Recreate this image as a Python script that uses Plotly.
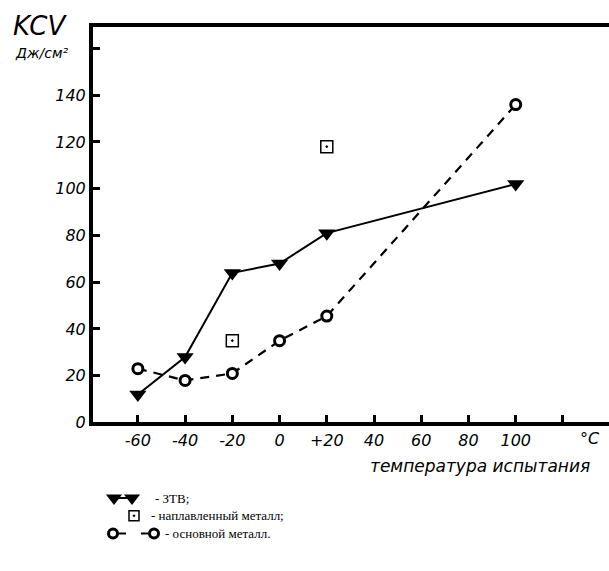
import plotly.graph_objects as go

# ---- data ----
temp_ztv = [-60, -40, -20, 0, 20, 100]
kcv_ztv = [12, 28, 64, 68, 81, 102]

temp_weld = [-20, 20]
kcv_weld = [35, 118]

temp_base = [-60, -40, -20, 0, 20, 100]
kcv_base = [23, 18, 21, 35, 45.5, 136]

x_tickvals = [-60, -40, -20, 0, 20, 40, 60, 80, 100, 120]
x_ticktext = ["-60", "-40", "-20", "0", "+20", "40", "60", "80", "100", ""]
y_tickvals = [0, 20, 40, 60, 80, 100, 120, 140, 160]
y_ticktext = ["0", "20", "40", "60", "80", "100", "120", "140", ""]

legend_labels = ["- ЗТВ;", "- наплавленный металл;", "- основной металл."]

W, H = 609, 571
L, T, B = 93, 27, 430  # pixel edges of the plot area

hand = dict(family="DejaVu Sans", size=16, color="black", style="italic")

fig = go.Figure()

# main series
fig.add_trace(go.Scatter(x=temp_ztv, y=kcv_ztv, mode="lines+markers",
                         line=dict(color="black", width=2),
                         marker=dict(symbol="triangle-down", size=15, color="black"),
                         showlegend=False))
fig.add_trace(go.Scatter(x=temp_base, y=kcv_base, mode="lines",
                         line=dict(color="black", width=2.2, dash="9px,7px"),
                         showlegend=False))
fig.add_trace(go.Scatter(x=temp_base, y=kcv_base, mode="markers",
                         marker=dict(symbol="circle", size=10, color="white",
                                     line=dict(color="black", width=3)),
                         showlegend=False))
fig.add_trace(go.Scatter(x=temp_weld, y=kcv_weld, mode="markers",
                         marker=dict(symbol="square-open-dot", size=12, color="black",
                                     line=dict(color="black", width=1.5)),
                         showlegend=False))

# legend glyphs (on a pixel-coordinate helper axis below the plot)
leg_y = [507, 525, 543]
fig.add_trace(go.Scatter(x=[114, 132], y=[leg_y[0], leg_y[0]], mode="lines+markers",
                         xaxis="x2", yaxis="y2",
                         line=dict(color="black", width=2),
                         marker=dict(symbol="triangle-down", size=14, color="black"),
                         showlegend=False))
fig.add_trace(go.Scatter(x=[134], y=[leg_y[1]], mode="markers", xaxis="x2", yaxis="y2",
                         marker=dict(symbol="square-open-dot", size=10, color="black",
                                     line=dict(color="black", width=1.5)),
                         showlegend=False))
fig.add_trace(go.Scatter(x=[113, 126, None, 141, 154], y=[leg_y[2]] * 2 + [None] + [leg_y[2]] * 2,
                         mode="lines", xaxis="x2", yaxis="y2", line=dict(color="black", width=2),
                         showlegend=False))
fig.add_trace(go.Scatter(x=[113, 154], y=[leg_y[2], leg_y[2]], mode="markers", xaxis="x2", yaxis="y2",
                         marker=dict(symbol="circle", size=9, color="white",
                                     line=dict(color="black", width=3)),
                         showlegend=False))

serif = dict(family="Liberation Serif", size=13, color="black")
leg_x = [153, 149, 163]
annotations = []
for lx, ly, txt in zip(leg_x, leg_y, legend_labels):
    annotations.append(dict(x=lx, y=ly, xref="x2", yref="y2", text=txt, showarrow=False,
                            xanchor="left", yanchor="middle", font=serif))

annotations += [
    dict(x=40 / W, y=1 - 26 / H, xref="paper", yref="paper", text="KCV", showarrow=False,
         xanchor="center", yanchor="middle",
         font=dict(family="DejaVu Sans", size=26, color="black", style="italic")),
    dict(x=42 / W, y=1 - 54 / H, xref="paper", yref="paper", text="Дж/см²", showarrow=False,
         xanchor="center", yanchor="middle",
         font=dict(family="DejaVu Sans", size=14, color="black", style="italic")),
    dict(x=590 / W, y=1 - 446 / H, xref="paper", yref="paper", text="°C", showarrow=False,
         xanchor="center", yanchor="middle", font=hand),
    dict(x=480 / W, y=1 - 474 / H, xref="paper", yref="paper", text="температура испытания",
         showarrow=False, xanchor="center", yanchor="middle",
         font=dict(family="DejaVu Sans", size=17, color="black", style="italic")),
]

fig.update_layout(
    width=W, height=H,
    margin=dict(l=0, r=0, t=0, b=0),
    paper_bgcolor="white", plot_bgcolor="white",
    showlegend=False,
    annotations=annotations,
    xaxis=dict(domain=[L / W, 1], range=[-79, 139.5], showgrid=False, zeroline=False,
               showline=True, linewidth=4, linecolor="black", mirror=True,
               ticks="inside", ticklen=7, tickwidth=3, tickcolor="black",
               tickvals=x_tickvals, ticktext=x_ticktext, tickfont=hand, anchor="y"),
    yaxis=dict(domain=[1 - B / H, 1 - T / H], range=[0, 169.4], showgrid=False, zeroline=False,
               showline=True, linewidth=4, linecolor="black",
               ticks="inside", ticklen=7, tickwidth=3, tickcolor="black",
               tickvals=y_tickvals, ticktext=y_ticktext, tickfont=hand, anchor="x"),
    xaxis2=dict(domain=[0, 1], range=[0, W], visible=False, anchor="y2", fixedrange=True),
    yaxis2=dict(domain=[0, 1 - B / H], range=[H, B], visible=False, anchor="x2", fixedrange=True),
)

fig.write_html("out.html", config={"displayModeBar": False},
               post_script="document.body.style.margin='0';")
